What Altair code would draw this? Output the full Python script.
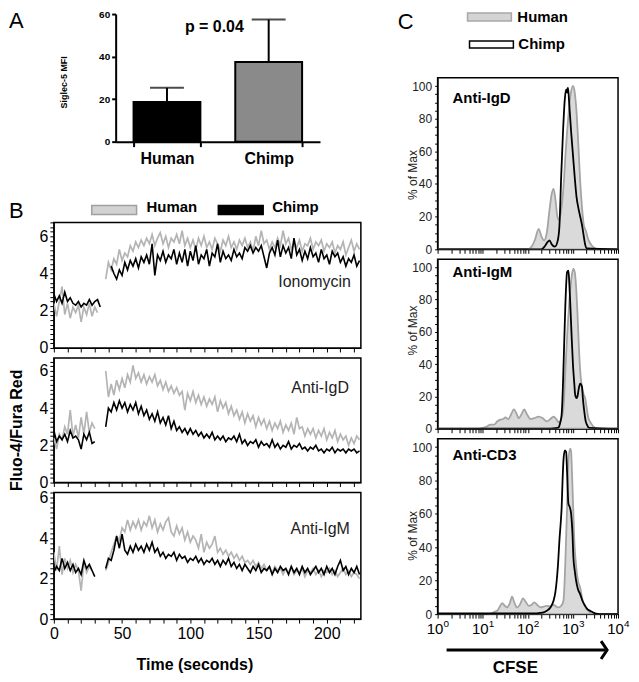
import altair as alt
import pandas as pd

FONT = "Liberation Sans"
GRAY_LINE = "#b4b4b4"
GRAY_FILL = "#dadada"
GRAY_EDGE = "#a4a4a4"

# ---------------- Panel A ----------------
A_GROUPS = ["Human", "Chimp"]
A_MEANS = [18.7, 37.5]
A_UPPER = [25.3, 57.4]
A_FILLS = ["#000000", "#8a8a8a"]

# ---------------- Panel B (Fluo-4/Fura Red vs time, 2 s samples) ----------------
B1_HUMAN_PRE = [2.4, 1.7, 2.5, 3.3, 1.8, 2.4, 1.6, 2.2, 1.9, 2.3, 1.4, 2.2, 1.8, 2.4, 1.7, 2.2, 1.9]
B1_CHIMP_PRE = [2.9, 2.5, 2.8, 2.4, 3.0, 2.5, 2.7, 2.4, 2.3, 2.5, 2.2, 2.4, 2.3, 2.6, 2.3, 2.5, 2.6, 2.2]
B1_HUMAN_POST_START = 38
B1_HUMAN_POST = [3.7, 4.6, 4.2, 4.8, 4.5, 5.3, 4.7, 5.1, 4.9, 5.5,
                 5.2, 5.7, 5.4, 5.8, 5.5, 5.9, 5.6, 6.1, 5.5, 5.9,
                 6.2, 5.6, 6.0, 5.4, 5.9, 5.7, 6.1, 5.6, 6.3, 5.5,
                 5.9, 5.4, 5.8, 5.3, 5.9, 5.5, 6.0, 5.4, 5.7, 5.3,
                 5.9, 5.6, 5.2, 5.8, 5.5, 6.0, 5.4, 5.7, 5.3, 5.8,
                 5.5, 5.9, 5.4, 5.7, 5.2, 6.0, 5.5, 6.3, 5.6, 5.8,
                 5.3, 5.7, 5.4, 5.9, 5.5, 6.3, 5.6, 5.9, 5.3, 5.7,
                 5.4, 5.8, 5.2, 5.6, 5.5, 5.9, 5.3, 5.7, 5.5, 5.8,
                 5.2, 5.6, 5.4, 5.7, 5.1, 5.5, 5.3, 5.7, 5.0, 5.4,
                 5.8, 5.2, 5.6, 5.3]
B1_CHIMP_POST_START = 42
B1_CHIMP_POST = [4.4, 4.0, 3.7, 4.2, 3.9, 4.6, 4.2, 4.7, 4.4, 4.8,
                 4.3, 4.9, 4.6, 5.0, 4.5, 5.6, 3.9, 5.0, 4.7, 5.2,
                 4.6, 5.0, 4.8, 5.3, 4.5, 5.1, 4.6, 5.3, 4.4, 5.2,
                 4.7, 5.5, 4.5, 5.0, 4.8, 5.3, 4.4, 5.1, 4.9, 5.6,
                 4.6, 5.2, 4.8, 5.0, 4.7, 5.3, 4.9, 5.1, 4.8, 5.4,
                 5.2, 5.5, 5.1, 5.4, 5.2, 5.5, 4.9, 4.3, 5.1, 5.4,
                 5.0, 5.8, 4.9, 5.5, 5.1, 5.4, 4.8, 5.9, 5.0, 5.3,
                 4.7, 5.2, 4.8, 5.4, 4.9, 5.1, 4.6, 5.3, 4.8, 5.0,
                 4.5, 5.2, 4.9, 5.1, 4.6, 4.9, 4.4, 4.8, 4.6, 5.0,
                 4.4, 4.7]

B2_HUMAN_PRE = [2.4, 1.8, 2.6, 2.3, 3.0, 2.6, 3.9, 2.5, 3.1, 2.4, 3.5, 2.6, 3.8, 2.7, 3.2, 2.9]
B2_CHIMP_PRE = [2.8, 2.2, 2.5, 2.3, 2.6, 2.2, 2.8, 2.4, 2.5, 2.3, 1.8, 2.6, 2.3, 2.7, 2.1, 2.2]
B2_HUMAN_POST_START = 38
B2_HUMAN_POST = [6.0, 4.6, 5.3, 4.7, 5.5, 5.0, 5.6, 5.1, 5.8, 5.4,
                 6.3, 5.6, 5.9, 5.4, 5.8, 5.3, 5.7, 5.4, 5.8, 5.2,
                 5.5, 5.0, 5.4, 4.9, 5.2, 4.8, 5.1, 4.7, 4.9, 3.9,
                 4.8, 4.4, 4.9, 4.3, 4.7, 4.2, 4.6, 4.1, 4.5, 4.2,
                 4.6, 3.8, 4.4, 4.0, 4.3, 3.7, 4.1, 3.6, 3.9, 3.4,
                 3.8, 3.2, 3.7, 3.3, 3.6, 3.0, 3.5, 3.1, 3.4, 2.9,
                 3.3, 2.8, 3.2, 2.9, 3.3, 2.7, 3.1, 2.8, 3.2, 2.6,
                 3.5, 2.9, 3.0, 2.5, 2.9, 2.6, 2.9, 2.4, 2.8, 2.5,
                 2.9, 2.3, 2.7, 2.4, 2.8, 2.2, 2.6, 2.3, 2.5, 2.0,
                 2.4, 2.1, 2.5, 2.3]
B2_CHIMP_POST_START = 38
B2_CHIMP_POST = [3.0, 4.0, 3.8, 4.3, 3.9, 4.4, 4.0, 4.3, 3.8, 4.2,
                 3.9, 4.3, 3.7, 4.1, 3.6, 3.9, 3.4, 3.7, 3.3, 3.8,
                 3.2, 3.5, 3.1, 3.6, 2.9, 3.3, 2.8, 3.0, 2.7, 2.9,
                 2.6, 2.9, 2.6, 2.8, 2.5, 2.7, 2.4, 2.6, 2.4, 2.7,
                 2.3, 2.5, 2.3, 2.5, 2.2, 2.4, 2.3, 2.5, 2.2, 2.6,
                 2.1, 2.3, 2.0, 2.2, 2.1, 2.3, 1.9, 2.2, 2.0, 2.1,
                 1.9, 2.3, 1.9, 2.1, 1.8, 2.0, 1.9, 2.2, 1.8, 2.0,
                 1.9, 2.1, 1.8, 1.9, 1.7, 1.9, 1.8, 2.0, 1.7, 1.8,
                 1.6, 1.8, 1.7, 1.9, 1.6, 1.8, 1.7, 1.8, 1.6, 1.8,
                 1.7, 1.8, 1.6, 1.7]

B3_HUMAN_PRE = [3.3, 2.4, 3.6, 2.2, 3.0, 2.5, 2.9, 2.3, 2.7, 2.4, 1.4, 2.8, 2.3, 2.6, 2.4]
B3_CHIMP_PRE = [2.3, 2.6, 2.4, 3.0, 2.5, 2.8, 2.4, 2.7, 2.3, 2.5, 2.2, 2.9, 2.5, 2.7, 2.4, 2.1]
B3_HUMAN_POST_START = 38
B3_HUMAN_POST = [2.4, 2.8, 3.3, 3.7, 4.1, 3.9, 4.5, 4.3, 4.9, 4.4,
                 4.8, 4.5, 4.9, 4.4, 4.8, 4.6, 5.1, 4.5, 4.9, 4.3,
                 4.7, 4.4, 4.8, 5.0, 4.3, 4.1, 4.6, 4.2, 4.5, 3.9,
                 4.3, 3.8, 4.1, 3.9, 3.5, 4.2, 3.3, 3.8, 3.5, 3.7,
                 4.1, 3.3, 3.5, 3.2, 3.4, 3.1, 3.3, 3.0, 3.2, 2.9,
                 3.1, 2.8, 2.9, 2.7, 2.9, 2.6, 2.8, 2.5, 2.7, 2.4,
                 2.6, 2.3, 2.6, 2.4, 2.5, 2.2, 2.5, 2.3, 2.6, 2.2,
                 2.4, 2.3, 2.5, 2.1, 2.4, 2.3, 2.5, 2.2, 2.4, 2.1,
                 2.4, 2.3, 2.5, 2.2, 2.4, 2.1, 2.3, 2.5, 2.2, 2.4,
                 2.1, 2.3, 2.2, 2.0]
B3_CHIMP_POST_START = 38
B3_CHIMP_POST = [2.5, 3.0, 2.9, 3.4, 4.1, 3.5, 4.2, 3.4, 3.2, 3.6,
                 3.3, 3.7, 3.4, 3.6, 3.3, 3.7, 3.4, 3.8, 3.3, 3.5,
                 3.1, 3.3, 3.0, 3.2, 3.1, 3.3, 2.9, 3.2, 3.0, 3.1,
                 2.8, 3.0, 2.9, 3.1, 2.8, 3.0, 2.7, 2.9, 2.8, 3.0,
                 2.7, 2.9, 2.6, 2.9, 2.7, 3.0, 2.6, 2.8, 2.5, 2.7,
                 2.4, 2.7, 2.5, 2.3, 2.6, 2.4, 2.7, 2.3, 2.5, 2.4,
                 2.6, 2.2, 2.5, 2.3, 2.6, 2.4, 2.5, 2.2, 2.6, 2.3,
                 2.5, 2.2, 2.6, 2.3, 2.5, 2.2, 2.4, 2.6, 2.3, 2.5,
                 2.2, 2.6, 2.3, 2.5, 2.2, 2.6, 2.9, 2.4, 2.6, 2.2,
                 2.5, 2.3, 2.6, 2.2]

# ---------------- Panel C (CFSE histograms, x as log10 of CFSE) ----------------
C1_HUMAN_LOGX = [0, 2.0, 2.08, 2.16, 2.24, 2.3, 2.36, 2.42, 2.48, 2.53, 2.57, 2.61, 2.65, 2.69, 2.74, 2.79,
                 2.84, 2.9, 2.95, 3.0, 3.04, 3.08, 3.12, 3.16, 3.2, 3.24, 3.29, 3.34, 3.4, 3.46, 3.55, 4.0]
C1_HUMAN_PCT = [0, 0, 1.5, 6, 12.5, 8, 5.5, 10, 24, 34, 37, 31, 21, 18, 24, 38,
                60, 82, 95, 100, 96, 84, 64, 42, 26, 15, 11, 6, 3, 1.2, 0, 0]
C1_CHIMP_LOGX = [0, 2.3, 2.38, 2.44, 2.48, 2.53, 2.6, 2.66, 2.7, 2.74, 2.78, 2.82, 2.85, 2.87, 2.89, 2.92,
                 2.96, 3.0, 3.04, 3.08, 3.13, 3.17, 3.2, 3.24, 3.27, 3.31, 4.0]
C1_CHIMP_PCT = [0, 0, 2, 4.5, 5.5, 3, 1.6, 5, 14, 45, 72, 92, 98, 96, 99, 88,
                72, 58, 44, 32, 24, 19, 15, 8, 3, 0.5, 0]

C2_HUMAN_LOGX = [0, 0.9, 1.0, 1.1, 1.17, 1.25, 1.32, 1.39, 1.45, 1.5, 1.57, 1.63, 1.69, 1.74, 1.8, 1.86,
                 1.92, 1.98, 2.06, 2.14, 2.24, 2.33, 2.42, 2.5, 2.57, 2.63, 2.68, 2.74, 2.79, 2.83, 2.87,
                 2.91, 2.94, 2.98, 3.01, 3.04, 3.07, 3.1, 3.13, 3.16, 3.2, 3.24, 3.27, 3.31, 3.34, 3.4,
                 3.45, 3.53, 4.0]
C2_HUMAN_PCT = [0, 0, 0.5, 1.5, 2.5, 2.5, 4.5, 5.6, 6, 7, 6, 9, 12, 10, 6.5, 9,
                12, 9, 6, 6.5, 7.5, 6.5, 4.6, 6, 7.5, 6, 4, 6, 13, 35, 57,
                75, 86, 96, 99, 97, 88, 72, 52, 36, 26, 21, 19, 12, 7, 3.5,
                1.5, 0, 0]
C2_CHIMP_LOGX = [0, 2.5, 2.62, 2.68, 2.72, 2.75, 2.78, 2.8, 2.83, 2.87, 2.9, 2.92, 2.94, 2.97, 3.0, 3.03,
                 3.05, 3.08, 3.1, 3.13, 3.16, 3.2, 3.22, 3.25, 3.28, 3.31, 3.36, 4.0]
C2_CHIMP_PCT = [0, 0, 0.3, 0.8, 4, 9, 28, 47, 75, 97, 98, 90, 78, 58, 40, 28,
                21, 19, 20, 25, 28, 26, 19, 11, 5, 2.5, 0.5, 0]

C3_HUMAN_LOGX = [0, 1.1, 1.2, 1.27, 1.32, 1.38, 1.43, 1.49, 1.54, 1.6, 1.65, 1.7, 1.76, 1.83, 1.89, 1.95,
                 2.02, 2.08, 2.14, 2.21, 2.28, 2.35, 2.42, 2.5, 2.57, 2.63, 2.68, 2.74, 2.79, 2.83, 2.87,
                 2.9, 2.94, 2.96, 2.98, 3.01, 3.03, 3.06, 3.09, 3.12, 3.16, 3.2, 3.23, 3.28, 3.34, 3.45, 4.0]
C3_HUMAN_PCT = [0, 0, 0.5, 1.5, 2, 4.5, 6.6, 5, 4, 6.5, 10.4, 7, 4, 6, 9.4, 7.5,
                5, 5.5, 7, 5.5, 4, 4.5, 5, 4.5, 5.6, 4.5, 4, 5, 8, 30, 64,
                92, 99, 97, 84, 60, 44, 32, 24, 19, 16, 10, 7, 4, 2, 0, 0]
C3_CHIMP_LOGX = [0, 2.2, 2.3, 2.35, 2.42, 2.5, 2.57, 2.61, 2.64, 2.67, 2.7, 2.73, 2.75, 2.77, 2.79, 2.82,
                 2.85, 2.87, 2.9, 2.93, 2.96, 2.99, 3.01, 3.04, 3.07, 3.11, 3.16, 3.21, 3.27, 3.32, 3.38,
                 3.45, 3.49, 3.6, 4.0]
C3_CHIMP_PCT = [0.5, 0.5, 0.8, 1, 2, 4, 8, 13, 20, 30, 44, 55, 64, 80, 92, 98,
                97, 85, 66, 64, 60, 48, 34, 26, 20, 15, 12, 8, 5, 3, 2,
                1, 0.4, 0, 0]

# decade tick labels of the CFSE axis: base "10" with these exponents
C_DECADES = [1, 10, 100, 1000, 10000]
C_EXPONENTS = ["0", "1", "2", "3", "4"]

ONE = pd.DataFrame({"k": [0]})


def note(text, x, y, size, weight="normal", align="left", color="black"):
    return alt.Chart(ONE).mark_text(
        text=text, font=FONT, fontSize=size, fontWeight=weight, align=align,
        baseline="middle", color=color
    ).encode(x=alt.value(x), y=alt.value(y))


def box(x, x2, y, y2, fill, stroke, sw=1.5):
    return alt.Chart(ONE).mark_rect(fill=fill, stroke=stroke, strokeWidth=sw).encode(
        x=alt.value(x), x2=alt.value(x2), y=alt.value(y), y2=alt.value(y2))


# ---------------- Panel A chart ----------------
dfA = pd.DataFrame({"group": A_GROUPS, "mean": A_MEANS, "upper": A_UPPER, "fill": A_FILLS})
xA = alt.X("group:N", sort=A_GROUPS,
           scale=alt.Scale(range=[62, 267], paddingInner=0.343, paddingOuter=0.176),
           axis=alt.Axis(title=None, labelFont=FONT, labelFontSize=16, labelFontWeight="bold",
                         labelAngle=0, labelColor="black", tickBand="extent", tickSize=5,
                         tickWidth=2, tickColor="black", domainColor="black", domainWidth=2,
                         labelPadding=4))
yA_scale = alt.Scale(domain=[0, 60], nice=False)
yA_axis = alt.Axis(values=[0, 20, 40, 60], offset=-62, title="Siglec-5 MFI",
                   titleFont=FONT, titleFontSize=9, titleFontWeight="bold", titleAngle=270,
                   titleX=-52, titleY=68, titleBaseline="middle", titleAlign="center",
                   labelFont=FONT, labelFontSize=10, labelFontWeight="bold", labelColor="black",
                   tickSize=4, tickWidth=2, tickColor="black", domainColor="black", domainWidth=2,
                   labelPadding=2)
baseA = alt.Chart(dfA)
barsA = baseA.mark_bar(stroke="black", strokeWidth=2).encode(
    x=xA, y=alt.Y("mean:Q", scale=yA_scale, axis=yA_axis),
    fill=alt.Fill("fill:N", scale=None))
errA = baseA.mark_rule(color="black", strokeWidth=2).encode(
    x=alt.X("group:N", sort=A_GROUPS), y=alt.Y("mean:Q", title="Siglec-5 MFI"), y2="upper:Q")
capA = baseA.mark_tick(color="black", thickness=2, size=34, orient="horizontal").encode(
    x=alt.X("group:N", sort=A_GROUPS), y=alt.Y("upper:Q", title="Siglec-5 MFI"))
chartA = alt.layer(
    barsA, errA, capA,
    note("p = 0.04", 161, 13, 16, "bold", "center"),
    note("A", -45, 7, 22),
).properties(width=308, height=128)

# ---------------- Panel B legend ----------------
chartBleg = alt.layer(
    note("B", -45, 60, 22),
    box(38, 83, 54, 63, "#d2d2d2", "#a0a0a0"),
    note("Human", 93, 56, 15, "bold"),
    box(165, 210, 54, 63, "#000000", "#000000"),
    note("Chimp", 219, 56, 15, "bold"),
).properties(width=308, height=61)


# ---------------- Panel B charts ----------------
def b_panel(h_pre, h_post, h_start, c_pre, c_post, c_start, label, lab_x, lab_y,
            ymax, height, bottom_labels, ytitle):
    rows = []
    for series, pre, post, start in [("Human", h_pre, h_post, h_start),
                                     ("Chimp", c_pre, c_post, c_start)]:
        for i, v in enumerate(pre):
            rows.append({"t": 2 * i, "v": v, "series": series, "seg": series + "-pre"})
        for i, v in enumerate(post):
            rows.append({"t": start + 2 * i, "v": v, "series": series, "seg": series + "-post"})
    df = pd.DataFrame(rows)
    xticks = list(range(0, 230, 10))
    if bottom_labels:
        xaxis = alt.Axis(values=xticks, labelExpr="datum.value % 50 === 0 ? '' + datum.value : ''",
                         labelFlush=False, labelOverlap=False, labelFont=FONT, labelFontSize=16,
                         labelColor="black", tickSize=4, tickColor="black", domainColor="black",
                         title="Time (seconds)", titleFont=FONT, titleFontSize=16,
                         titleFontWeight="bold", titleX=141, titlePadding=16, titleColor="black")
    else:
        xaxis = alt.Axis(values=xticks, labels=False, title=None, tickSize=4,
                         tickColor="black", domainColor="black")
    yticks = [i * 0.25 for i in range(int(ymax / 0.25) + 1)]
    yargs = dict(values=yticks, labelExpr="datum.value % 2 === 0 ? '' + datum.value : ''",
                 labelOverlap=False, labelFont=FONT, labelFontSize=16, labelColor="black",
                 tickSize=4, tickColor="black", domainColor="black", labelPadding=2)
    if ytitle:
        yaxis = alt.Axis(title=ytitle, titleFont=FONT, titleFontSize=16, titleFontWeight="bold",
                         titleAngle=270, titleX=-37, titleY=72, titleBaseline="middle",
                         titleAlign="center", titleColor="black", **yargs)
    else:
        yaxis = alt.Axis(title=None, **yargs)
    x = alt.X("t:Q", scale=alt.Scale(domain=[0, 225], nice=False, zero=False), axis=xaxis)
    y = alt.Y("v:Q", scale=alt.Scale(domain=[0, ymax], nice=False), axis=yaxis)
    base = alt.Chart(df)
    human = base.transform_filter(alt.datum.series == "Human").mark_line(
        color=GRAY_LINE, strokeWidth=1.7, clip=True).encode(x=x, y=y, detail="seg:N")
    chimp = base.transform_filter(alt.datum.series == "Chimp").mark_line(
        color="#000000", strokeWidth=1.6, clip=True).encode(x=x, y=y, detail="seg:N")
    return alt.layer(human, chimp, note(label, lab_x, lab_y, 16, align="right", color="#222222")).properties(
        width=308, height=height,
        view=alt.ViewBackground(stroke="black", strokeWidth=1.5))


chartB1 = b_panel(B1_HUMAN_PRE, B1_HUMAN_POST, B1_HUMAN_POST_START,
                  B1_CHIMP_PRE, B1_CHIMP_POST, B1_CHIMP_POST_START,
                  "Ionomycin", 298, 60, 6.75, 126, False, None)
chartB2 = b_panel(B2_HUMAN_PRE, B2_HUMAN_POST, B2_HUMAN_POST_START,
                  B2_CHIMP_PRE, B2_CHIMP_POST, B2_CHIMP_POST_START,
                  "Anti-IgD", 296, 30, 6.7, 125, False, "Fluo-4/Fura Red")
chartB3 = b_panel(B3_HUMAN_PRE, B3_HUMAN_POST, B3_HUMAN_POST_START,
                  B3_CHIMP_PRE, B3_CHIMP_POST, B3_CHIMP_POST_START,
                  "Anti-IgM", 297, 37, 6.25, 127, True, None)

# ---------------- Panel C legend ----------------
chartCleg = alt.layer(
    note("C", -40, 8, 22),
    box(30, 74, -1, 7, "#d4d4d4", "#a8a8a8"),
    note("Human", 80, 3, 15, "bold"),
    box(32, 76, 27, 34, "#ffffff", "#000000"),
    note("Chimp", 81, 30, 15, "bold"),
).properties(width=181, height=54)


# ---------------- Panel C charts ----------------
LOG_TICKS = [m * 10 ** d for d in range(4) for m in range(1, 10)] + [10000]


def c_panel(h_logx, h_pct, c_logx, c_pct, label, lab_y, title_y, height, bottom_labels):
    dfh = pd.DataFrame({"cfse": [10 ** g for g in h_logx], "pct": h_pct})
    dfc = pd.DataFrame({"cfse": [10 ** g for g in c_logx], "pct": c_pct})
    if bottom_labels:
        xaxis = alt.Axis(values=LOG_TICKS,
                         labelExpr="indexof([1, 10, 100, 1000, 10000], datum.value) >= 0 ? '10' : ''",
                         labelFlush=False, labelOverlap=False, labelFont=FONT, labelFontSize=15,
                         labelColor="black", labelOffset=-3, tickSize=4, tickColor="black",
                         domainColor="black", title=None, labelPadding=3)
    else:
        xaxis = alt.Axis(values=LOG_TICKS, labels=False, title=None, tickSize=4,
                         tickColor="black", domainColor="black")
    yaxis = alt.Axis(values=list(range(0, 101, 5)),
                     labelExpr="datum.value % 20 === 0 ? datum.label : ''",
                     labelOverlap=False, labelFont=FONT, labelFontSize=12, labelColor="#222222",
                     tickSize=3, tickColor="black", domainColor="black", labelPadding=3,
                     title="% of Max", titleFont=FONT, titleFontSize=12, titleFontWeight="normal",
                     titleAngle=270, titleX=-25, titleY=title_y, titleBaseline="middle",
                     titleAlign="center", titleColor="#222222")
    xscale = alt.Scale(type="log", domain=[1, 10000], nice=False)
    x = alt.X("cfse:Q", scale=xscale, axis=xaxis)
    y = alt.Y("pct:Q", scale=alt.Scale(domain=[0, 105], nice=False), axis=yaxis)
    area = alt.Chart(dfh).mark_area(fill=GRAY_FILL, stroke=GRAY_EDGE, strokeWidth=1.8,
                                    clip=True, interpolate="monotone").encode(x=x, y=y)
    line = alt.Chart(dfc).mark_line(color="black", strokeWidth=1.8, clip=True,
                                    interpolate="monotone").encode(x=x, y=y)
    layers = [area, line, note(label, 15, lab_y, 15, "bold")]
    if bottom_labels:
        dfe = pd.DataFrame({"cfse": C_DECADES, "exp": C_EXPONENTS})
        layers.append(alt.Chart(dfe).mark_text(
            font=FONT, fontSize=10, align="left", baseline="middle", color="black", dx=6
        ).encode(x=alt.X("cfse:Q", scale=xscale), y=alt.value(height + 10), text="exp:N"))
        layers.append(alt.Chart(ONE).mark_rule(color="black", strokeWidth=3).encode(
            x=alt.value(9), x2=alt.value(168), y=alt.value(212)))
        layers.append(alt.Chart(ONE).mark_point(
            shape="M-0.67,-1L0,0L-0.67,1", size=324, filled=False, stroke="black",
            strokeWidth=3, strokeJoin="miter", opacity=1).encode(
            x=alt.value(170), y=alt.value(212)))
        layers.append(note("CFSE", 78, 230, 17, "bold", "center"))
    return alt.layer(*layers).properties(
        width=181, height=height,
        view=alt.ViewBackground(stroke="black", strokeWidth=1.5))


chartC1 = c_panel(C1_HUMAN_LOGX, C1_HUMAN_PCT, C1_CHIMP_LOGX, C1_CHIMP_PCT,
                  "Anti-IgD", 20, 97, 172, False)
chartC2 = c_panel(C2_HUMAN_LOGX, C2_HUMAN_PCT, C2_CHIMP_LOGX, C2_CHIMP_PCT,
                  "Anti-IgM", 13, 71, 170, False)
chartC3 = c_panel(C3_HUMAN_LOGX, C3_HUMAN_PCT, C3_CHIMP_LOGX, C3_CHIMP_PCT,
                  "Anti-CD3", 16, 97, 176, True)

left = alt.vconcat(chartA, chartBleg, chartB1, chartB2, chartB3, spacing=10, bounds="flush")
right = alt.vconcat(chartCleg, chartC1, chartC2, chartC3, spacing=10, bounds="flush")

chart = alt.hconcat(left, right, spacing=36).properties(
    padding={"left": 0, "top": 0, "right": 0, "bottom": 0}
).configure_view(stroke=None).configure_axis(grid=False, labelFont=FONT, titleFont=FONT)

chart.save("out.html", embed_options={"renderer": "svg", "actions": False})
